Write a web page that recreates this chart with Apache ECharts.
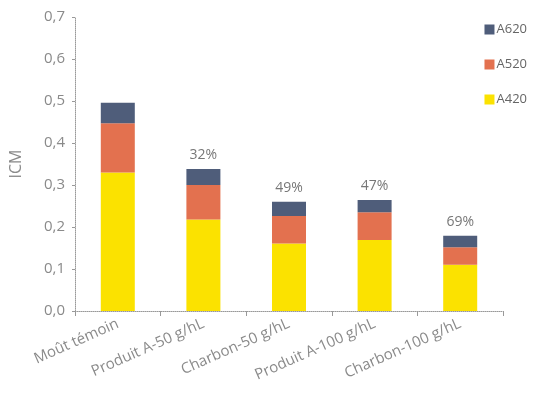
<!DOCTYPE html>
<html>
<head>
<meta charset="utf-8">
<script src="https://cdn.jsdelivr.net/npm/echarts@6/dist/echarts.min.js"></script>
<style>
  html, body { margin: 0; padding: 0; background: #fff; }
  #chart { width: 535px; height: 403px; }
</style>
</head>
<body>
<div id="chart"></div>
<script>
// Traitements du moût
const categories = ['Moût témoin', 'Produit A-50 g/hL', 'Charbon-50 g/hL', 'Produit A-100 g/hL', 'Charbon-100 g/hL'];
// Absorbances empilées (ICM = A420 + A520 + A620)
const a420 = [0.330, 0.218, 0.161, 0.169, 0.110];
const a520 = [0.117, 0.082, 0.065, 0.066, 0.042];
const a620 = [0.049, 0.038, 0.034, 0.029, 0.027];
// Réduction de l'ICM par rapport au témoin
const reduction = ['', '32%', '49%', '47%', '69%'];
const yTicks = { min: 0, max: 0.7, interval: 0.1 };

const font = '"Open Sans", "Noto Sans", sans-serif';
const grey = '#8a8a8a';

const chart = echarts.init(document.getElementById('chart'), null, { renderer: 'canvas' });
chart.setOption({
  animation: false,
  textStyle: { fontFamily: font },
  grid: { left: 74, right: 32, top: 17, bottom: 92 },
  legend: {
    orient: 'vertical',
    right: 3,
    top: 18,
    itemWidth: 10,
    itemHeight: 10,
    itemGap: 22,
    icon: 'rect',
    textStyle: { color: '#666', fontSize: 13, fontFamily: font, padding: [0, 0, 0, -3] },
    data: ['A620', 'A520', 'A420']
  },
  xAxis: {
    type: 'category',
    data: categories,
    axisLine: { lineStyle: { color: '#999', width: 1, type: [1, 1] } },
    axisTick: { show: true, length: 5, lineStyle: { color: '#999' } },
    axisLabel: { rotate: 24, color: grey, fontSize: 15, fontFamily: font, margin: 12 }
  },
  yAxis: {
    type: 'value',
    min: yTicks.min,
    max: yTicks.max,
    interval: yTicks.interval,
    name: 'ICM',
    nameLocation: 'middle',
    nameGap: 51,
    nameTextStyle: { color: grey, fontSize: 16, fontFamily: font },
    axisLine: { show: true, lineStyle: { color: '#999', width: 1, type: [1, 1] } },
    axisTick: { show: true, length: 3, inside: false, lineStyle: { color: '#999' } },
    splitLine: { show: false },
    axisLabel: {
      color: grey, fontSize: 15, fontFamily: font, margin: 10,
      formatter: v => v.toFixed(1).replace('.', ',')
    }
  },
  series: [
    { name: 'A420', type: 'bar', stack: 'icm', barWidth: 34, data: a420,
      itemStyle: { color: '#fbe200' } },
    { name: 'A520', type: 'bar', stack: 'icm', data: a520,
      itemStyle: { color: '#e3714f' } },
    { name: 'A620', type: 'bar', stack: 'icm', data: a620,
      itemStyle: { color: '#4f5d7a' },
      label: {
        show: true, position: 'top', distance: 7,
        color: '#777', fontSize: 14, fontFamily: font,
        formatter: p => reduction[p.dataIndex]
      } }
  ]
});
</script>
</body>
</html>
